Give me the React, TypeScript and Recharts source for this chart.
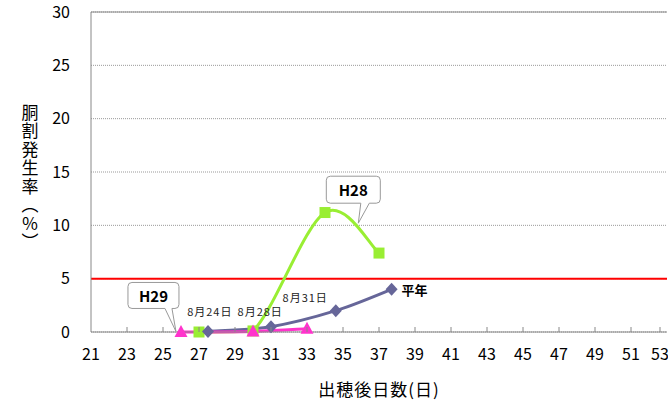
import React from 'react';
import {
  CartesianGrid,
  Label,
  Line,
  LineChart,
  ReferenceDot,
  ReferenceLine,
  XAxis,
  YAxis,
} from 'recharts';

const FONT = "'Noto Sans CJK JP', 'Noto Sans', sans-serif";

// days after heading / crack rate (%)
const H28_DAYS = [27, 30, 34, 37];
const H28_RATE = [0, 0.1, 11.2, 7.4];

const NORMAL_DAYS = [27.5, 31, 34.6, 37.7];
const NORMAL_RATE = [0.05, 0.5, 2.0, 4.0];

const H29_DAYS = [26, 30, 33];
const H29_RATE = [0, 0.05, 0.3];

const X_TICKS = [21, 23, 25, 27, 29, 31, 33, 35, 37, 39, 41, 43, 45, 47, 49, 51, 53];
const Y_TICKS = [0, 5, 10, 15, 20, 25, 30];
const THRESHOLD = 5;

const DATE_NOTES = [
  { text: '8月24日', day: 27.6, rate: 2.0 },
  { text: '8月28日', day: 30.4, rate: 2.0 },
  { text: '8月31日', day: 32.9, rate: 3.3 },
];

type Row = { day: number; rate: number };
const toRows = (days: number[], rates: number[]): Row[] =>
  days.map((day, i) => ({ day, rate: rates[i] }));

const h28Data = toRows(H28_DAYS, H28_RATE);
const normalData = toRows(NORMAL_DAYS, NORMAL_RATE);
const h29Data = toRows(H29_DAYS, H29_RATE);

// Excel-like smoothed line (Catmull-Rom style), kept from dipping under the lowest point
const smoothCurve = (context: any) => {
  let pts: number[][] = [];
  return {
    areaStart() {},
    areaEnd() {},
    lineStart() {
      pts = [];
    },
    point(x: number, y: number) {
      pts.push([+x, +y]);
    },
    lineEnd() {
      if (!pts.length) return;
      const floor = Math.max(...pts.map((p) => p[1]));
      context.moveTo(pts[0][0], pts[0][1]);
      for (let i = 0; i < pts.length - 1; i++) {
        const p0 = pts[i - 1] || pts[i];
        const p1 = pts[i];
        const p2 = pts[i + 1];
        const p3 = pts[i + 2] || p2;
        context.bezierCurveTo(
          p1[0] + (p2[0] - p0[0]) / 6,
          Math.min(floor, p1[1] + (p2[1] - p0[1]) / 6),
          p2[0] - (p3[0] - p1[0]) / 6,
          Math.min(floor, p2[1] - (p3[1] - p1[1]) / 6),
          p2[0],
          p2[1],
        );
      }
    },
  };
};

const SquareDot = (props: any) => {
  const { cx, cy } = props;
  if (cx == null || cy == null) return null;
  return <rect x={cx - 5.5} y={cy - 5.5} width={11} height={11} fill="#99ee33" />;
};

const DiamondDot = (props: any) => {
  const { cx, cy } = props;
  if (cx == null || cy == null) return null;
  return (
    <path
      d={`M${cx},${cy - 6.5} L${cx + 6},${cy} L${cx},${cy + 6.5} L${cx - 6},${cy} Z`}
      fill="#666699"
    />
  );
};

const TriangleDot = (props: any) => {
  const { cx, cy } = props;
  if (cx == null || cy == null) return null;
  return (
    <path
      d={`M${cx},${cy - 7} L${cx + 6.5},${cy + 5} L${cx - 6.5},${cy + 5} Z`}
      fill="#ff33cc"
    />
  );
};

function Callout({
  cx,
  cy,
  text,
  box,
  tail,
}: {
  cx?: number;
  cy?: number;
  text: string;
  box: [number, number, number, number];
  tail: [number, number];
}) {
  if (cx == null || cy == null) return null;
  const [x0, y0, x1, y1] = box;
  const r = 4;
  const d = `M${x0 + r},${y0} H${x1 - r} Q${x1},${y0} ${x1},${y0 + r} V${y1 - r} Q${x1},${y1} ${x1 - r},${y1} H${tail[1]} L0,0 L${tail[0]},${y1} H${x0 + r} Q${x0},${y1} ${x0},${y1 - r} V${y0 + r} Q${x0},${y0} ${x0 + r},${y0} Z`;
  return (
    <g transform={`translate(${cx},${cy})`}>
      <path d={d} fill="#fff" stroke="#999" strokeWidth={1} />
      <text
        x={(x0 + x1) / 2}
        y={(y0 + y1) / 2}
        textAnchor="middle"
        dominantBaseline="central"
        fontFamily={FONT}
        fontWeight="bold"
        fontSize={15}
        fill="#000"
      >
        {text}
      </text>
    </g>
  );
}

const XTick = (props: any) => {
  const { x, y, payload } = props;
  return (
    <g>
      {payload.value !== 21 && (
        <line x1={x} x2={x} y1={y - 21} y2={y - 26} stroke="#888" />
      )}
      <text
        x={x}
        y={y}
        textAnchor="middle"
        dominantBaseline="central"
        fontFamily={FONT}
        fontSize={16}
        fill="#000"
      >
        {payload.value}
      </text>
    </g>
  );
};

const XTitle = (props: any) => {
  const { viewBox } = props;
  return (
    <text
      x={viewBox.x + viewBox.width / 2}
      y={viewBox.y + viewBox.height - 12}
      textAnchor="middle"
      dominantBaseline="central"
      fontFamily={FONT}
      fontSize={17}
      letterSpacing={1}
      fill="#000"
    >
      出穂後日数(日)
    </text>
  );
};

const YTitle = () => (
  <text
    x={30}
    y={104}
    fontFamily={FONT}
    fontSize={17}
    fill="#000"
    style={{ writingMode: 'vertical-rl', textOrientation: 'mixed' } as any}
    letterSpacing={1.5}
  >
    胴割発生率（％）
  </text>
);

export default function App() {
  return (
    <div
      style={{
        position: 'fixed',
        left: 0,
        top: 0,
        width: 668,
        height: 400,
        overflow: 'hidden',
        background: '#fff',
      }}
    >
      <LineChart
        width={668}
        height={400}
        margin={{ top: 12, right: 1, bottom: 0, left: 0 }}
        style={{ overflow: 'hidden' }}
      >
        <CartesianGrid vertical={false} stroke="#999" strokeDasharray="1 1" />
        <XAxis
          type="number"
          dataKey="day"
          domain={[21, 53]}
          ticks={X_TICKS}
          allowDataOverflow
          height={68}
          stroke="#888"
          tickLine={false}
          tickSize={0}
          tickMargin={21}
          tick={<XTick />}
        >
          <Label content={<XTitle />} />
        </XAxis>
        <YAxis
          type="number"
          domain={[0, 30]}
          ticks={Y_TICKS}
          width={91}
          stroke="#888"
          tickLine={false}
          tickSize={0}
          tickMargin={21}
          tick={{ fontFamily: FONT, fontSize: 16, fill: '#000' }}
        >
          <Label content={<YTitle />} />
        </YAxis>
        <ReferenceLine y={30} stroke="#888" />
        <ReferenceLine y={THRESHOLD} stroke="#ff0000" strokeWidth={2} />

        <Line
          data={h28Data}
          dataKey="rate"
          type={smoothCurve as any}
          stroke="#99ee33"
          strokeWidth={3}
          dot={<SquareDot />}
          activeDot={false}
          isAnimationActive={false}
        />
        <Line
          data={normalData}
          dataKey="rate"
          type={smoothCurve as any}
          stroke="#666699"
          strokeWidth={3}
          dot={<DiamondDot />}
          activeDot={false}
          isAnimationActive={false}
        />
        <Line
          data={h29Data}
          dataKey="rate"
          type={smoothCurve as any}
          stroke="#ff33cc"
          strokeWidth={3}
          dot={<TriangleDot />}
          activeDot={false}
          isAnimationActive={false}
        />

        {DATE_NOTES.map((n) => (
          <ReferenceDot
            key={n.text}
            x={n.day}
            y={n.rate}
            ifOverflow="visible"
            shape={(p: any) => (
              <text
                x={p.cx}
                y={p.cy}
                textAnchor="middle"
                dominantBaseline="central"
                fontFamily={FONT}
                fontSize={11}
                letterSpacing={1}
                fill="#222"
              >
                {n.text}
              </text>
            )}
          />
        ))}
        <ReferenceDot
          x={NORMAL_DAYS[NORMAL_DAYS.length - 1]}
          y={NORMAL_RATE[NORMAL_RATE.length - 1]}
          ifOverflow="visible"
          shape={(p: any) => (
            <text
              x={p.cx + 10}
              y={p.cy}
              dominantBaseline="central"
              fontFamily={FONT}
              fontSize={13}
              fontWeight="bold"
              fill="#000"
            >
              平年
            </text>
          )}
        />
        <ReferenceDot
          x={35.85}
          y={10.2}
          ifOverflow="visible"
          shape={(p: any) => (
            <Callout cx={p.cx} cy={p.cy} text="H28" box={[-32, -47, 22, -20]} tail={[2.5, 11]} />
          )}
        />
        <ReferenceDot
          x={25.72}
          y={0.05}
          ifOverflow="visible"
          shape={(p: any) => (
            <Callout cx={p.cx} cy={p.cy} text="H29" box={[-48, -49, 3, -23]} tail={[-11, -4]} />
          )}
        />
      </LineChart>
    </div>
  );
}
